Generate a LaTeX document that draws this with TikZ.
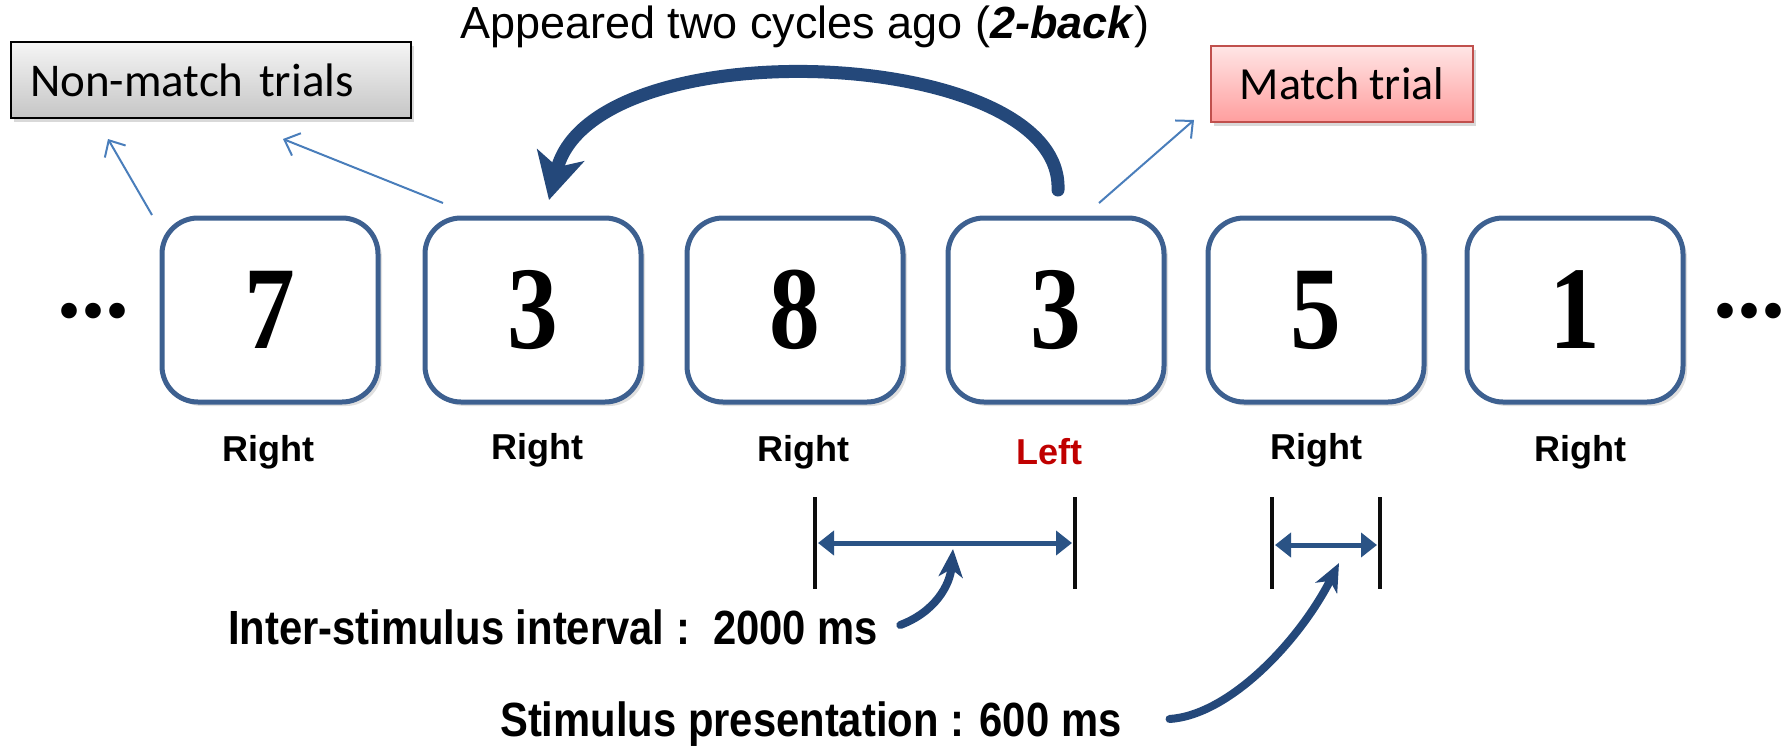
\documentclass[tikz,border=0pt]{standalone}
\usepackage{fontspec}
\setmainfont{Liberation Sans}
\newfontfamily\calibrifont{Carlito}
\newfontfamily\digitfont[FakeStretch=0.86]{Liberation Serif}
\newfontfamily\dotfont{Liberation Serif}
\newfontfamily\narrowfont[FakeStretch=0.87]{Liberation Sans}
\usetikzlibrary{arrows.meta,shadows,calc}
\definecolor{boxblue}{HTML}{3D6090}
\definecolor{thinblue}{HTML}{4A7EBB}
\definecolor{darkblue}{HTML}{24487A}
\definecolor{dimblue}{HTML}{2A5385}
\definecolor{leftred}{HTML}{C00000}
\definecolor{matchedge}{HTML}{C0504D}
\tikzset{
  stim/.style={draw=boxblue, line width=5pt, rounded corners=36pt, fill=white,
    minimum width=216pt, minimum height=184pt, inner sep=0pt,
    drop shadow={shadow xshift=4pt, shadow yshift=-4pt, opacity=0.25},
    font=\fontsize{118}{118}\digitfont\bfseries},
  resp/.style={font=\fontsize{36}{38}\selectfont\bfseries, inner sep=0pt},
  dots/.style={font=\fontsize{96}{96}\dotfont\bfseries, inner sep=0pt},
  thinarrow/.style={thinblue, line width=2pt, -{Straight Barb[length=13pt, width=24pt, line width=2pt]}},
  bigarrow/.style={darkblue, line width=13pt, line cap=round, -{Stealth[length=46pt, width=48pt, inset=12pt]}},
  curvearrow/.style={darkblue, line width=8pt, line cap=round, -{Stealth[length=28pt, width=24pt, inset=8pt]}},
  dimarrow/.style={dimblue, line width=5pt, {Triangle[length=16pt, width=24pt]}-{Triangle[length=16pt, width=24pt]}, shorten <=3pt, shorten >=3pt},
  barline/.style={black!95, line width=4.5pt},
  note/.style={font=\fontsize{48}{50}\narrowfont\bfseries, inner sep=0pt},
}
\begin{document}
\begin{tikzpicture}[x=1pt, y=-1pt]
\useasboundingbox (0,0) rectangle (1791,745);

% title
\node[font=\fontsize{45}{48}\selectfont, inner sep=0pt] (title) at (805,27) {Appeared two cycles ago (\textbf{\textit{2-back}})};

% category boxes
\node[draw=black, line width=2pt, top color=gray!8, bottom color=gray!45,
      drop shadow={shadow xshift=3pt, shadow yshift=-4pt, opacity=0.3},
      minimum height=76pt, text width=362pt, inner xsep=19pt, align=left,
      font=\fontsize{47}{50}\calibrifont] (nonmatch) at (211,80) {Non-match trials};
\node[draw=matchedge, line width=2pt, top color=red!10, bottom color=red!38,
      drop shadow={shadow xshift=3pt, shadow yshift=-4pt, opacity=0.3},
      minimum height=76pt, minimum width=262pt,
      font=\fontsize{46}{48}\calibrifont] (match) at (1342,84) {Match trial};

% stimulus boxes
\node[stim] (b1) at (270,310) {7};
\node[stim] (b2) at (533,310) {3};
\node[stim] (b3) at (795,310) {8};
\node[stim] (b4) at (1056,310) {3};
\node[stim] (b5) at (1316,310) {5};
\node[stim] (b6) at (1575,310) {1};

\node[dots] (dl) at (93,311) {...};
\node[dots] (dr) at (1749,311) {...};

% responses
\node[resp] (r1) at (268,452) {Right};
\node[resp] (r2) at (537,450) {Right};
\node[resp] (r3) at (803,452) {Right};
\node[resp, text=leftred] (r4) at (1049,452) {Left};
\node[resp] (r5) at (1316,450) {Right};
\node[resp] (r6) at (1580,452) {Right};

% thin arrows to category boxes
\coordinate (t1s) at (152,215);
\coordinate (t1e) at (108,139);
\coordinate (t2s) at (443,203);
\coordinate (t2e) at (283,139);
\coordinate (t3s) at (1099,203);
\coordinate (t3e) at (1194,120);
\draw[thinarrow] (t1s) -- (t1e);
\draw[thinarrow] (t2s) -- (t2e);
\draw[thinarrow] (t3s) -- (t3e);

% big 2-back arrow
\coordinate (bs) at (1058,190);
\coordinate (be) at (549,200);
\draw[bigarrow] (bs) .. controls (1064,46) and (594,26) .. (be);

% interval markers
\coordinate (isiL) at (815,543);
\coordinate (isiR) at (1075,543);
\coordinate (spL) at (1272,545);
\coordinate (spR) at (1380,545);
\draw[barline] ($(isiL)+(0,-46)$) -- ($(isiL)+(0,46)$);
\draw[barline] ($(isiR)+(0,-46)$) -- ($(isiR)+(0,46)$);
\draw[barline] ($(spL)+(0,-48)$) -- ($(spL)+(0,44)$);
\draw[barline] ($(spR)+(0,-48)$) -- ($(spR)+(0,44)$);
\draw[dimarrow] (isiL) -- (isiR);
\draw[dimarrow] (spL) -- (spR);

% annotations
\node[note, anchor=west] (isi) at (228,627) {Inter-stimulus interval :\ \ 2000 ms};
\node[note, anchor=west] (sp) at (500,724) {Stimulus presentation : 600 ms};

\coordinate (isiT) at (953,549);
\coordinate (spT) at (1339,563);
\draw[curvearrow] ([xshift=22pt, yshift=2pt]isi.east) .. controls (935,612) and (950,585) .. (isiT);
\draw[curvearrow] ([xshift=48pt, yshift=5pt]sp.east) .. controls (1230,715) and (1300,640) .. (spT);
\end{tikzpicture}
\end{document}
